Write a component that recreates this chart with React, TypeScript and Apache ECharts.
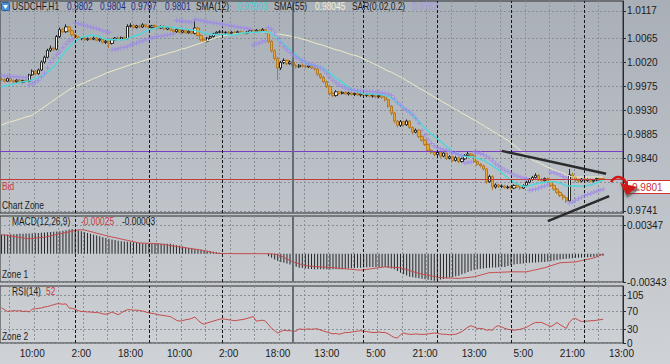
import React, { useEffect, useRef } from 'react';
import * as echarts from 'echarts';

const FONT = '"Liberation Sans", Arial, sans-serif';
const TEXT_SCALE = 0.84;

const symbolName = 'USDCHF,H1';
const timeLabels = ['10:00', '2:00', '18:00', '10:00', '2:00', '18:00', '13:00', '5:00', '21:00', '13:00', '5:00', '21:00', '13:00'];
const slotCount = 203;
const labelFirstSlot = 10;
const labelEvery = 16;
const gridEvery = 8;
const gridOffset = 3;
const daySeparators = [24, 48, 72, 118, 142, 166, 190];
const weekSeparator = 95;

const priceTicks = [0.9741, 0.9795, 0.984, 0.9885, 0.993, 0.9975, 1.002, 1.0065, 1.0117];
const priceLabels = [0.9741, 0.984, 0.9885, 0.993, 0.9975, 1.002, 1.0065, 1.0117];
const macdTicks = [-0.00343, 0.00347];
const rsiTicks = [0, 30, 70, 105];

const bidPrice = 0.9801;
const levelPrice = 0.9854;
const trendUpper = [[163, 0.9854], [197, 0.9811]];
const trendLower = [[178, 0.9722], [198, 0.9769]];

const opens = [
  0.9989, 0.9988, 0.9985, 0.9990, 0.9986, 0.9984, 0.9987, 0.9983, 0.9986, 0.9985,
  0.9997, 1.0004, 0.9999, 1.0006, 1.0021, 1.0030, 1.0043, 1.0047, 1.0045, 1.0069,
  1.0082, 1.0078, 1.0087, 1.0080, 1.0072, 1.0068, 1.0065, 1.0066, 1.0063, 1.0065,
  1.0064, 1.0066, 1.0062, 1.0064, 1.0058, 1.0060, 1.0056, 1.0063, 1.0066, 1.0064,
  1.0067, 1.0065, 1.0088, 1.0090, 1.0086, 1.0089, 1.0087, 1.0091, 1.0088, 1.0086,
  1.0089, 1.0087, 1.0085, 1.0088, 1.0083, 1.0086, 1.0081, 1.0078, 1.0082, 1.0077,
  1.0080, 1.0076, 1.0079, 1.0075, 1.0085, 1.0071, 1.0063, 1.0060, 1.0066, 1.0069,
  1.0074, 1.0077, 1.0078, 1.0076, 1.0077, 1.0075, 1.0077, 1.0076, 1.0078, 1.0076,
  1.0075, 1.0077, 1.0080, 1.0078, 1.0081, 1.0079, 1.0082, 1.0076, 1.0060, 1.0042,
  1.0028, 1.0010, 1.0020, 1.0024, 1.0018, 1.0021, 1.0014, 1.0012, 1.0015, 1.0013,
  1.0012, 1.0014, 1.0010, 1.0008, 0.9998, 0.9992, 0.9984, 0.9975, 0.9962, 0.9958,
  0.9965, 0.9962, 0.9964, 0.9961, 0.9963, 0.9960, 0.9962, 0.9959, 0.9961, 0.9958,
  0.9960, 0.9957, 0.9959, 0.9956, 0.9958, 0.9955, 0.9950, 0.9938, 0.9925, 0.9910,
  0.9902, 0.9909, 0.9903, 0.9910, 0.9898, 0.9889, 0.9893, 0.9881, 0.9874, 0.9866,
  0.9855, 0.9851, 0.9847, 0.9852, 0.9844, 0.9850, 0.9840, 0.9843, 0.9836, 0.9841,
  0.9834, 0.9839, 0.9845, 0.9848, 0.9845, 0.9834, 0.9829, 0.9826, 0.9820, 0.9796,
  0.9806, 0.9786, 0.9790, 0.9787, 0.9788, 0.9785, 0.9786, 0.9784, 0.9789, 0.9786,
  0.9784, 0.9789, 0.9795, 0.9800, 0.9804, 0.9808, 0.9800, 0.9798, 0.9802, 0.9796,
  0.9789, 0.9782, 0.9776, 0.9770, 0.9766, 0.9760, 0.9809, 0.9805, 0.9799, 0.9797,
  0.9801, 0.9798, 0.9800, 0.9797, 0.9799, 0.9802, 0.9802,
];

const closes = [
  0.9988, 0.9985, 0.9990, 0.9986, 0.9984, 0.9987, 0.9983, 0.9986, 0.9985, 0.9997,
  1.0004, 0.9999, 1.0006, 1.0021, 1.0030, 1.0043, 1.0047, 1.0045, 1.0069, 1.0082,
  1.0078, 1.0087, 1.0080, 1.0072, 1.0068, 1.0065, 1.0066, 1.0063, 1.0065, 1.0064,
  1.0066, 1.0062, 1.0064, 1.0058, 1.0060, 1.0056, 1.0063, 1.0066, 1.0064, 1.0067,
  1.0065, 1.0088, 1.0090, 1.0086, 1.0089, 1.0087, 1.0091, 1.0088, 1.0086, 1.0089,
  1.0087, 1.0085, 1.0088, 1.0083, 1.0086, 1.0081, 1.0078, 1.0082, 1.0077, 1.0080,
  1.0076, 1.0079, 1.0075, 1.0085, 1.0071, 1.0063, 1.0060, 1.0066, 1.0069, 1.0074,
  1.0077, 1.0078, 1.0076, 1.0077, 1.0075, 1.0077, 1.0076, 1.0078, 1.0076, 1.0075,
  1.0077, 1.0080, 1.0078, 1.0081, 1.0079, 1.0082, 1.0076, 1.0060, 1.0042, 1.0028,
  1.0010, 1.0020, 1.0024, 1.0018, 1.0021, 1.0014, 1.0012, 1.0015, 1.0013, 1.0012,
  1.0014, 1.0010, 1.0008, 0.9998, 0.9992, 0.9984, 0.9975, 0.9962, 0.9958, 0.9965,
  0.9962, 0.9964, 0.9961, 0.9963, 0.9960, 0.9962, 0.9959, 0.9961, 0.9958, 0.9960,
  0.9957, 0.9959, 0.9956, 0.9958, 0.9955, 0.9950, 0.9938, 0.9925, 0.9910, 0.9902,
  0.9909, 0.9903, 0.9910, 0.9898, 0.9889, 0.9893, 0.9881, 0.9874, 0.9866, 0.9855,
  0.9851, 0.9847, 0.9852, 0.9844, 0.9850, 0.9840, 0.9843, 0.9836, 0.9841, 0.9834,
  0.9839, 0.9845, 0.9848, 0.9845, 0.9834, 0.9829, 0.9826, 0.9820, 0.9796, 0.9806,
  0.9786, 0.9790, 0.9787, 0.9788, 0.9785, 0.9786, 0.9784, 0.9789, 0.9786, 0.9784,
  0.9789, 0.9795, 0.9800, 0.9804, 0.9808, 0.9800, 0.9798, 0.9802, 0.9796, 0.9789,
  0.9782, 0.9776, 0.9770, 0.9766, 0.9760, 0.9809, 0.9805, 0.9799, 0.9797, 0.9801,
  0.9798, 0.9800, 0.9797, 0.9799, 0.9802, 0.9800, 0.9801,
];

const highs = [
  0.9992, 0.9990, 0.9993, 0.9992, 0.9988, 0.9989, 0.9989, 0.9988, 0.9989, 0.9999,
  1.0007, 1.0006, 1.0009, 1.0024, 1.0033, 1.0046, 1.0052, 1.0050, 1.0072, 1.0086,
  1.0085, 1.0092, 1.0089, 1.0082, 1.0074, 1.0070, 1.0068, 1.0068, 1.0067, 1.0067,
  1.0069, 1.0068, 1.0066, 1.0066, 1.0063, 1.0062, 1.0065, 1.0068, 1.0069, 1.0069,
  1.0069, 1.0092, 1.0094, 1.0092, 1.0091, 1.0091, 1.0094, 1.0093, 1.0090, 1.0091,
  1.0092, 1.0089, 1.0090, 1.0090, 1.0088, 1.0088, 1.0083, 1.0084, 1.0084, 1.0082,
  1.0082, 1.0081, 1.0081, 1.0099, 1.0087, 1.0073, 1.0065, 1.0068, 1.0071, 1.0076,
  1.0079, 1.0081, 1.0080, 1.0079, 1.0079, 1.0079, 1.0079, 1.0080, 1.0080, 1.0078,
  1.0079, 1.0082, 1.0083, 1.0083, 1.0083, 1.0085, 1.0084, 1.0078, 1.0062, 1.0045,
  1.0031, 1.0023, 1.0028, 1.0026, 1.0024, 1.0023, 1.0017, 1.0017, 1.0018, 1.0016,
  1.0017, 1.0016, 1.0013, 1.0010, 1.0000, 0.9995, 0.9986, 0.9977, 0.9965, 0.9968,
  0.9967, 0.9966, 0.9966, 0.9965, 0.9965, 0.9964, 0.9964, 0.9963, 0.9963, 0.9962,
  0.9962, 0.9961, 0.9961, 0.9960, 0.9960, 0.9957, 0.9952, 0.9940, 0.9927, 0.9912,
  0.9912, 0.9911, 0.9913, 0.9912, 0.9900, 0.9896, 0.9895, 0.9883, 0.9876, 0.9868,
  0.9858, 0.9853, 0.9855, 0.9854, 0.9853, 0.9852, 0.9846, 0.9845, 0.9844, 0.9843,
  0.9842, 0.9848, 0.9852, 0.9850, 0.9847, 0.9836, 0.9831, 0.9828, 0.9822, 0.9809,
  0.9808, 0.9793, 0.9792, 0.9791, 0.9790, 0.9789, 0.9788, 0.9791, 0.9791, 0.9788,
  0.9791, 0.9798, 0.9803, 0.9807, 0.9812, 0.9810, 0.9803, 0.9804, 0.9804, 0.9798,
  0.9791, 0.9784, 0.9778, 0.9773, 0.9768, 0.9820, 0.9813, 0.9807, 0.9801, 0.9803,
  0.9803, 0.9802, 0.9802, 0.9801, 0.9804, 0.9804, 0.9804,
];

const lows = [
  0.9985, 0.9983, 0.9984, 0.9984, 0.9981, 0.9982, 0.9981, 0.9981, 0.9983, 0.9983,
  0.9995, 0.9996, 0.9997, 1.0004, 1.0018, 1.0028, 1.0040, 1.0041, 1.0043, 1.0066,
  1.0075, 1.0076, 1.0077, 1.0069, 1.0065, 1.0063, 1.0062, 1.0061, 1.0061, 1.0062,
  1.0062, 1.0060, 1.0059, 1.0056, 1.0055, 1.0047, 1.0054, 1.0061, 1.0062, 1.0062,
  1.0063, 1.0064, 1.0086, 1.0084, 1.0084, 1.0085, 1.0085, 1.0086, 1.0084, 1.0084,
  1.0085, 1.0083, 1.0083, 1.0081, 1.0081, 1.0079, 1.0075, 1.0076, 1.0075, 1.0075,
  1.0074, 1.0074, 1.0073, 1.0073, 1.0069, 1.0060, 1.0057, 1.0058, 1.0064, 1.0067,
  1.0072, 1.0075, 1.0074, 1.0074, 1.0073, 1.0073, 1.0074, 1.0074, 1.0074, 1.0073,
  1.0073, 1.0075, 1.0076, 1.0076, 1.0077, 1.0077, 1.0074, 1.0057, 1.0039, 1.0024,
  0.9987, 1.0006, 1.0017, 1.0015, 1.0016, 1.0011, 1.0009, 1.0010, 1.0011, 1.0009,
  1.0010, 1.0008, 1.0005, 0.9995, 0.9989, 0.9981, 0.9972, 0.9958, 0.9955, 0.9956,
  0.9959, 0.9960, 0.9959, 0.9958, 0.9958, 0.9957, 0.9957, 0.9956, 0.9956, 0.9955,
  0.9955, 0.9954, 0.9953, 0.9953, 0.9952, 0.9947, 0.9935, 0.9921, 0.9906, 0.9898,
  0.9899, 0.9900, 0.9901, 0.9895, 0.9886, 0.9887, 0.9878, 0.9871, 0.9863, 0.9852,
  0.9848, 0.9844, 0.9845, 0.9841, 0.9842, 0.9837, 0.9838, 0.9833, 0.9834, 0.9831,
  0.9832, 0.9837, 0.9843, 0.9843, 0.9831, 0.9826, 0.9823, 0.9817, 0.9792, 0.9794,
  0.9780, 0.9783, 0.9784, 0.9784, 0.9783, 0.9782, 0.9781, 0.9782, 0.9784, 0.9781,
  0.9782, 0.9787, 0.9793, 0.9798, 0.9802, 0.9797, 0.9796, 0.9796, 0.9793, 0.9786,
  0.9779, 0.9773, 0.9767, 0.9762, 0.9756, 0.9758, 0.9802, 0.9796, 0.9794, 0.9795,
  0.9796, 0.9796, 0.9795, 0.9795, 0.9797, 0.9798, 0.9797,
];

const sma12 = [
  0.9974, 0.9976, 0.9977, 0.9978, 0.9980, 0.9981, 0.9983, 0.9984, 0.9985, 0.9986,
  0.9988, 0.9990, 0.9991, 0.9994, 0.9997, 1.0002, 1.0007, 1.0012, 1.0019, 1.0027,
  1.0035, 1.0043, 1.0049, 1.0055, 1.0060, 1.0064, 1.0067, 1.0069, 1.0070, 1.0072,
  1.0071, 1.0070, 1.0069, 1.0066, 1.0064, 1.0063, 1.0063, 1.0063, 1.0063, 1.0063,
  1.0063, 1.0065, 1.0067, 1.0069, 1.0071, 1.0073, 1.0076, 1.0079, 1.0081, 1.0083,
  1.0084, 1.0086, 1.0088, 1.0087, 1.0087, 1.0087, 1.0086, 1.0085, 1.0084, 1.0084,
  1.0083, 1.0082, 1.0081, 1.0081, 1.0079, 1.0078, 1.0076, 1.0074, 1.0074, 1.0073,
  1.0073, 1.0073, 1.0073, 1.0073, 1.0073, 1.0072, 1.0072, 1.0074, 1.0075, 1.0076,
  1.0076, 1.0077, 1.0077, 1.0077, 1.0077, 1.0078, 1.0078, 1.0077, 1.0074, 1.0070,
  1.0064, 1.0059, 1.0055, 1.0050, 1.0045, 1.0040, 1.0034, 1.0028, 1.0023, 1.0019,
  1.0017, 1.0015, 1.0015, 1.0013, 1.0011, 1.0008, 1.0004, 1.0000, 0.9995, 0.9991,
  0.9987, 0.9983, 0.9978, 0.9974, 0.9970, 0.9967, 0.9965, 0.9963, 0.9961, 0.9961,
  0.9961, 0.9961, 0.9960, 0.9960, 0.9959, 0.9958, 0.9956, 0.9953, 0.9949, 0.9944,
  0.9940, 0.9935, 0.9931, 0.9926, 0.9921, 0.9915, 0.9909, 0.9903, 0.9897, 0.9891,
  0.9886, 0.9881, 0.9877, 0.9872, 0.9867, 0.9862, 0.9858, 0.9853, 0.9850, 0.9847,
  0.9844, 0.9844, 0.9843, 0.9843, 0.9842, 0.9840, 0.9838, 0.9837, 0.9833, 0.9830,
  0.9826, 0.9822, 0.9818, 0.9813, 0.9808, 0.9803, 0.9799, 0.9795, 0.9792, 0.9789,
  0.9788, 0.9787, 0.9789, 0.9790, 0.9792, 0.9793, 0.9794, 0.9795, 0.9796, 0.9796,
  0.9796, 0.9795, 0.9793, 0.9791, 0.9788, 0.9788, 0.9788, 0.9788, 0.9788, 0.9787,
  0.9788, 0.9789, 0.9790, 0.9792, 0.9794, 0.9797, 0.97993,
];

const sma55 = [
  0.9903, 0.9905, 0.9907, 0.9909, 0.9910, 0.9912, 0.9914, 0.9916, 0.9918, 0.9919,
  0.9921, 0.9925, 0.9929, 0.9933, 0.9937, 0.9941, 0.9945, 0.9949, 0.9953, 0.9957,
  0.9961, 0.9965, 0.9969, 0.9972, 0.9975, 0.9977, 0.9980, 0.9982, 0.9985, 0.9987,
  0.9990, 0.9992, 0.9995, 0.9997, 1.0000, 1.0002, 1.0004, 1.0006, 1.0008, 1.0010,
  1.0012, 1.0014, 1.0016, 1.0018, 1.0019, 1.0021, 1.0023, 1.0025, 1.0027, 1.0028,
  1.0030, 1.0032, 1.0034, 1.0035, 1.0037, 1.0039, 1.0040, 1.0042, 1.0044, 1.0046,
  1.0047, 1.0049, 1.0051, 1.0053, 1.0055, 1.0057, 1.0059, 1.0061, 1.0063, 1.0065,
  1.0067, 1.0069, 1.0070, 1.0071, 1.0072, 1.0073, 1.0074, 1.0075, 1.0075, 1.0076,
  1.0076, 1.0076, 1.0077, 1.0077, 1.0077, 1.0077, 1.0077, 1.0076, 1.0075, 1.0075,
  1.0074, 1.0073, 1.0072, 1.0071, 1.0070, 1.0069, 1.0067, 1.0066, 1.0064, 1.0063,
  1.0061, 1.0059, 1.0057, 1.0055, 1.0054, 1.0052, 1.0050, 1.0048, 1.0046, 1.0044,
  1.0043, 1.0041, 1.0039, 1.0037, 1.0035, 1.0034, 1.0032, 1.0030, 1.0027, 1.0024,
  1.0021, 1.0019, 1.0016, 1.0013, 1.0010, 1.0007, 1.0004, 1.0002, 0.9999, 0.9996,
  0.9993, 0.9990, 0.9986, 0.9983, 0.9979, 0.9976, 0.9972, 0.9969, 0.9966, 0.9962,
  0.9959, 0.9955, 0.9952, 0.9949, 0.9945, 0.9942, 0.9939, 0.9935, 0.9932, 0.9929,
  0.9925, 0.9922, 0.9919, 0.9915, 0.9912, 0.9909, 0.9905, 0.9902, 0.9898, 0.9895,
  0.9891, 0.9888, 0.9884, 0.9881, 0.9877, 0.9874, 0.9869, 0.9865, 0.9860, 0.9855,
  0.9851, 0.9846, 0.9842, 0.9837, 0.9834, 0.9832, 0.9829, 0.9826, 0.9823, 0.9821,
  0.9818, 0.9816, 0.9814, 0.9812, 0.9809, 0.9807, 0.9805, 0.9805, 0.9805, 0.9805,
  0.9805, 0.9805, 0.9805, 0.9805, 0.9805, 0.9805, 0.98045,
];

const sar = [
  0.9996, 0.9995, 0.9995, 0.9994, 0.9994, 0.9993, 0.9993, 0.9992, 0.9992,
  0.9978, 0.9980, 0.9983, 0.9987, 0.9993, 1.0000, 1.0010, 1.0020, 1.0028, 1.0035, 1.0040, 1.0048, 1.0055, 1.0060, 1.0064,
  1.0094, 1.0093, 1.0092, 1.0090, 1.0089, 1.0087, 1.0085, 1.0084, 1.0082, 1.0080, 1.0078, 1.0077,
  1.0044, 1.0045, 1.0046, 1.0048, 1.0049, 1.0050, 1.0053, 1.0055, 1.0057, 1.0059, 1.0061, 1.0063, 1.0065, 1.0066, 1.0068, 1.0069, 1.0070, 1.0071, 1.0072, 1.0073, 1.0074,
  1.0099, 1.0098, 1.0098, 1.0097, 1.0097, 1.0096, 1.0101, 1.0100, 1.0099, 1.0098, 1.0097, 1.0096, 1.0095, 1.0094, 1.0093, 1.0092, 1.0091, 1.0090, 1.0089, 1.0088, 1.0087, 1.0086, 1.0085, 1.0084, 1.0083,
  1.0053, 1.0055, 1.0057, 1.0059, 1.0061,
  1.0086, 1.0082, 1.0075, 1.0065, 1.0057, 1.0050, 1.0044, 1.0039, 1.0034, 1.0030,
  1.0027, 1.0024, 1.0021, 1.0018, 1.0016, 1.0014, 1.0012, 1.0010, 1.0006, 1.0000,
  0.9993, 0.9987, 0.9982, 0.9978, 0.9975, 0.9972, 0.9970, 0.9969, 0.9968, 0.9967,
  0.9967, 0.9966, 0.9966, 0.9965, 0.9965, 0.9964, 0.9964, 0.9963, 0.9962, 0.9961,
  0.9958, 0.9952, 0.9945, 0.9940, 0.9934, 0.9931, 0.9927, 0.9922, 0.9915, 0.9906, 0.9893,
  0.9884, 0.9875, 0.9868, 0.9863, 0.9860, 0.9858, 0.9856, 0.9855, 0.9853, 0.9851, 0.9849, 0.9847, 0.9845,
  0.9831, 0.9832, 0.9833,
  0.9852, 0.9851, 0.9849, 0.9847, 0.9844, 0.9840, 0.9835, 0.9830, 0.9826, 0.9822, 0.9818, 0.9815, 0.9812, 0.9809, 0.9807, 0.9805, 0.9803, 0.9802,
  0.9780, 0.9781, 0.9782, 0.9784, 0.9786, 0.9788, 0.9790,
  0.9814, 0.9813, 0.9811, 0.9809, 0.9806, 0.9803,
  0.9756, 0.9758, 0.9761, 0.9764, 0.9767, 0.9770, 0.9772, 0.9774, 0.9776, 0.9778, 0.9780, 0.9782,
];

const macdMain = [
  0.00230, 0.00232, 0.00233, 0.00235, 0.00236, 0.00238, 0.00240, 0.00241, 0.00243, 0.00245,
  0.00246, 0.00248, 0.00250, 0.00253, 0.00256, 0.00259, 0.00262, 0.00264, 0.00267, 0.00270,
  0.00278, 0.00285, 0.00293, 0.00300, 0.00290, 0.00280, 0.00270, 0.00260, 0.00250, 0.00240,
  0.00230, 0.00220, 0.00210, 0.00200, 0.00191, 0.00182, 0.00173, 0.00164, 0.00155, 0.00150,
  0.00147, 0.00143, 0.00140, 0.00137, 0.00133, 0.00130, 0.00127, 0.00123, 0.00120, 0.00120,
  0.00121, 0.00122, 0.00121, 0.00120, 0.00120, 0.00119, 0.00112, 0.00103, 0.00095, 0.00087,
  0.00078, 0.00070, 0.00064, 0.00058, 0.00052, 0.00046, 0.00040, 0.00034, 0.00028, 0.00022,
  0.00016, 0.00010, 0.00008, 0.00006, 0.00005, 0.00004, 0.00003, 0.00003, 0.00002, 0.00002,
  0.00002, 0.00001, 0.00001, 0.00001, 0.00000, 0.00000, 0.00000, -0.00030, -0.00050, -0.00070,
  -0.00090, -0.00100, -0.00110, -0.00120, -0.00130, -0.00143, -0.00157, -0.00170, -0.00175, -0.00180,
  -0.00183, -0.00186, -0.00188, -0.00190, -0.00190, -0.00190, -0.00190, -0.00191, -0.00190, -0.00190,
  -0.00190, -0.00188, -0.00185, -0.00181, -0.00178, -0.00175, -0.00172, -0.00169, -0.00166, -0.00163,
  -0.00160, -0.00160, -0.00160, -0.00160, -0.00160, -0.00162, -0.00170, -0.00180, -0.00190, -0.00210,
  -0.00230, -0.00250, -0.00265, -0.00280, -0.00286, -0.00292, -0.00298, -0.00304, -0.00310, -0.00316,
  -0.00322, -0.00328, -0.00321, -0.00314, -0.00306, -0.00298, -0.00290, -0.00282, -0.00274, -0.00266,
  -0.00250, -0.00236, -0.00222, -0.00208, -0.00194, -0.00189, -0.00184, -0.00179, -0.00174, -0.00170,
  -0.00168, -0.00166, -0.00164, -0.00162, -0.00160, -0.00150, -0.00140, -0.00130, -0.00126, -0.00122,
  -0.00118, -0.00114, -0.00110, -0.00108, -0.00106, -0.00104, -0.00102, -0.00100, -0.00094, -0.00088,
  -0.00082, -0.00076, -0.00070, -0.00066, -0.00062, -0.00058, -0.00054, -0.00050, -0.00048, -0.00046,
  -0.00044, -0.00042, -0.00040, -0.00037, -0.00033, -0.00029, -0.00025,
];

const macdSignal = [
  0.00230, 0.00225, 0.00220, 0.00214, 0.00208, 0.00202, 0.00196, 0.00190, 0.00185, 0.00180,
  0.00183, 0.00188, 0.00193, 0.00197, 0.00200, 0.00208, 0.00216, 0.00224, 0.00232, 0.00240,
  0.00248, 0.00256, 0.00264, 0.00272, 0.00280, 0.00287, 0.00290, 0.00285, 0.00278, 0.00268,
  0.00258, 0.00248, 0.00238, 0.00229, 0.00219, 0.00210, 0.00202, 0.00194, 0.00186, 0.00177,
  0.00169, 0.00161, 0.00153, 0.00145, 0.00137, 0.00130, 0.00128, 0.00127, 0.00125, 0.00124,
  0.00122, 0.00121, 0.00115, 0.00110, 0.00104, 0.00099, 0.00093, 0.00088, 0.00082, 0.00077,
  0.00072, 0.00066, 0.00061, 0.00055, 0.00050, 0.00043, 0.00036, 0.00029, 0.00021, 0.00014,
  0.00007, 0.00002, 0.00001, 0.00001, 0.00001, 0.00001, 0.00000, 0.00000, 0.00000, 0.00000,
  0.00000, 0.00000, 0.00000, 0.00000, 0.00000, 0.00000, 0.00000, -0.00001, -0.00003, -0.00007,
  -0.00010, -0.00028, -0.00046, -0.00064, -0.00082, -0.00100, -0.00111, -0.00122, -0.00133, -0.00144,
  -0.00150, -0.00153, -0.00155, -0.00158, -0.00160, -0.00162, -0.00165, -0.00167, -0.00170, -0.00173,
  -0.00177, -0.00180, -0.00183, -0.00187, -0.00190, -0.00193, -0.00197, -0.00200, -0.00195, -0.00190,
  -0.00185, -0.00180, -0.00175, -0.00170, -0.00165, -0.00160, -0.00162, -0.00164, -0.00166, -0.00168,
  -0.00170, -0.00182, -0.00193, -0.00205, -0.00217, -0.00228, -0.00240, -0.00247, -0.00254, -0.00261,
  -0.00269, -0.00276, -0.00283, -0.00290, -0.00292, -0.00293, -0.00295, -0.00297, -0.00298, -0.00300,
  -0.00296, -0.00292, -0.00288, -0.00284, -0.00280, -0.00270, -0.00260, -0.00250, -0.00240, -0.00230,
  -0.00229, -0.00227, -0.00226, -0.00224, -0.00223, -0.00221, -0.00220, -0.00220, -0.00220, -0.00220,
  -0.00220, -0.00220, -0.00212, -0.00203, -0.00195, -0.00187, -0.00178, -0.00170, -0.00158, -0.00146,
  -0.00134, -0.00122, -0.00110, -0.00108, -0.00106, -0.00104, -0.00102, -0.00100, -0.00092, -0.00084,
  -0.00076, -0.00068, -0.00060, -0.00050, -0.00038, -0.00020, -0.00003,
];

const rsi = [
  77, 73, 69, 70, 71, 70, 71, 69, 70, 68,
  74, 75, 76, 77, 79, 80, 82, 84, 86, 86,
  85, 86, 77, 76, 74, 71, 69, 69, 68, 68,
  67, 67, 66, 64, 63, 65, 68, 65, 62, 66,
  70, 73, 73, 72, 72, 71, 70, 68, 66, 65,
  64, 62, 61, 60, 59, 58, 54, 50, 48, 49,
  51, 52, 54, 57, 50, 44, 41, 44, 46, 48,
  50, 52, 53, 52, 51, 50, 49, 50, 51, 52,
  54, 56, 58, 48, 49, 50, 48, 40, 32, 27,
  22, 25, 28, 27, 27, 26, 26, 31, 30, 30,
  31, 30, 31, 31, 28, 26, 24, 22, 20, 21,
  19, 21, 23, 23, 24, 25, 26, 27, 26, 25,
  24, 23, 23, 24, 23, 23, 20, 16, 12, 11,
  18, 22, 20, 19, 19, 20, 19, 19, 19, 20,
  21, 22, 21, 20, 19, 19, 18, 19, 19, 22,
  25, 30, 35, 38, 35, 32, 32, 31, 28, 29,
  28, 36, 38, 35, 32, 30, 29, 28, 29, 30,
  32, 34, 38, 42, 45, 45, 45, 42, 39, 36,
  40, 45, 40, 36, 32, 45, 52, 54, 50, 47,
  48, 48, 49, 49, 50, 51, 52,
];

const TEXT_DARK = '#1c1c1c';

function separatorLines() {
  return [
    ...daySeparators.map((s) => ({ xAxis: s, lineStyle: { color: '#151515', type: [3, 2], width: 1 } })),
    { xAxis: weekSeparator, lineStyle: { color: '#666c73', type: 'solid', width: 2 } },
  ];
}

function sepMarkLine() {
  return {
    silent: true,
    symbol: ['none', 'none'],
    precision: 6,
    label: { show: false },
    data: separatorLines(),
  };
}

function txt(text: string, x: number, y: number, fill: string) {
  return {
    type: 'text',
    x,
    y,
    z: 50,
    scaleX: TEXT_SCALE,
    silent: true,
    style: { text, fill, font: `10px ${FONT}`, verticalAlign: 'middle', align: 'left' },
  };
}

export default function App() {
  const ref = useRef<HTMLDivElement>(null);

  useEffect(() => {
    if (!ref.current) return;
    const chart = echarts.init(ref.current, null, { renderer: 'svg' });
    const last = closes.length - 1;
    const categories = Array.from({ length: slotCount }, (_, i) => String(i));
    const candles = opens.map((o, i) => [o, closes[i], lows[i], highs[i]]);

    const gridLineStyle = { color: '#899098', type: [2, 2], width: 1 };
    const isLabelSlot = (i: number) => i >= labelFirstSlot && (i - labelFirstSlot) % labelEvery === 0;
    const isGridSlot = (i: number) => i % gridEvery === gridOffset;

    const xAxes = [0, 1, 2].map((gi) => ({
      type: 'category',
      gridIndex: gi,
      data: categories,
      boundaryGap: true,
      axisLine: { show: false },
      axisTick: { show: false },
      axisLabel:
        gi === 2
          ? {
              show: true,
              interval: (i: number) => isLabelSlot(i),
              formatter: (_v: string, i: number) => timeLabels[(i - labelFirstSlot) / labelEvery] ?? '',
              color: TEXT_DARK,
              fontSize: 10,
              fontFamily: FONT,
              margin: 5,
            }
          : { show: false },
      splitLine: { show: true, interval: (i: number) => isGridSlot(i), lineStyle: gridLineStyle },
    }));

    const yCommon = (gi: number, ticks: number[], labels: number[], fmt: (v: number) => string) => ({
      type: 'value',
      gridIndex: gi,
      position: 'right',
      axisLine: { show: true, lineStyle: { color: '#2a2a2a', width: 1 } },
      axisTick: { show: true, length: 3, customValues: ticks, lineStyle: { color: '#2a2a2a' } },
      axisLabel: {
        customValues: labels,
        formatter: fmt,
        color: TEXT_DARK,
        fontSize: 10,
        fontFamily: FONT,
        margin: 4,
      },
      splitLine: { show: true, lineStyle: gridLineStyle },
    });

    const option: any = {
      animation: false,
      backgroundColor: 'transparent',
      grid: [
        { left: 0, top: 1, width: 623, height: 212, show: true, borderColor: '#2e2e2e', borderWidth: 1 },
        { left: 0, top: 216, width: 623, height: 66, show: true, borderColor: '#2e2e2e', borderWidth: 1 },
        { left: 0, top: 286, width: 623, height: 57, show: true, borderColor: '#2e2e2e', borderWidth: 1 },
      ],
      xAxis: xAxes,
      yAxis: [
        { ...yCommon(0, priceTicks, priceLabels, (v: number) => v.toFixed(4)), min: 0.97372, max: 1.01358 },
        { ...yCommon(1, macdTicks, macdTicks, (v: number) => v.toFixed(5)), min: -0.00343, max: 0.00456 },
        { ...yCommon(2, rsiTicks, rsiTicks, (v: number) => String(Math.round(v))), min: 0, max: 125 },
      ],
      series: [
        {
          type: 'candlestick',
          xAxisIndex: 0,
          yAxisIndex: 0,
          data: candles,
          barWidth: 2.8,
          z: 2,
          itemStyle: {
            color: '#f7f7f2',
            color0: '#eaa63a',
            borderColor: '#141414',
            borderColor0: '#b0741e',
            borderWidth: 0.9,
          },
          markLine: {
            silent: true,
            symbol: ['none', 'none'],
            precision: 6,
            label: { show: false },
            data: [
              { yAxis: bidPrice, lineStyle: { color: '#c43a3a', width: 1, type: 'solid' } },
              { yAxis: levelPrice, lineStyle: { color: '#7a3fc0', width: 1.2, type: 'solid', opacity: 1 } },
              ...separatorLines(),
            ],
          },
        },
        {
          type: 'line',
          xAxisIndex: 0,
          yAxisIndex: 0,
          data: sma55,
          showSymbol: false,
          z: 3,
          lineStyle: { color: '#efeac6', width: 1 },
        },
        {
          type: 'line',
          xAxisIndex: 0,
          yAxisIndex: 0,
          data: sma12,
          showSymbol: false,
          z: 4,
          lineStyle: { color: '#4fd6da', width: 1.5 },
        },
        {
          type: 'scatter',
          xAxisIndex: 0,
          yAxisIndex: 0,
          data: sar,
          symbol: 'path://M2,0H3V2H5V3H3V5H2V3H0V2H2Z',
          symbolSize: 5,
          z: 5,
          itemStyle: { color: '#9c86ec' },
        },
        {
          type: 'line',
          xAxisIndex: 0,
          yAxisIndex: 0,
          data: trendUpper,
          showSymbol: false,
          clip: false,
          z: 6,
          lineStyle: { color: '#2b2b2b', width: 2.5 },
        },
        {
          type: 'line',
          xAxisIndex: 0,
          yAxisIndex: 0,
          data: trendLower,
          showSymbol: false,
          clip: false,
          z: 6,
          lineStyle: { color: '#2b2b2b', width: 2.5 },
        },
        {
          type: 'bar',
          xAxisIndex: 1,
          yAxisIndex: 1,
          data: macdMain,
          barWidth: 1,
          itemStyle: { color: '#262626' },
          markLine: sepMarkLine(),
        },
        {
          type: 'line',
          xAxisIndex: 1,
          yAxisIndex: 1,
          data: macdSignal,
          showSymbol: false,
          z: 4,
          lineStyle: { color: '#c84a4a', width: 1 },
        },
        {
          type: 'line',
          xAxisIndex: 2,
          yAxisIndex: 2,
          data: rsi,
          showSymbol: false,
          z: 4,
          lineStyle: { color: '#c64a4a', width: 1 },
          markLine: sepMarkLine(),
        },
      ],
      graphic: [
        {
          type: 'rect',
          z: 50,
          shape: { x: 1.5, y: 2.5, width: 8, height: 8, r: 1 },
          style: { fill: '#4b92dc', stroke: '#2c5f9a', lineWidth: 1 },
        },
        {
          type: 'polygon',
          z: 51,
          shape: { points: [[3, 5], [8, 5], [5.5, 9]] },
          style: { fill: '#ffffff' },
        },
        txt(symbolName, 12, 7, TEXT_DARK),
        txt(opens[last].toFixed(4), 67, 7, '#1c2a7e'),
        txt(highs[last].toFixed(4), 100, 7, '#1c2a7e'),
        txt(lows[last].toFixed(4), 131, 7, '#1c2a7e'),
        txt(closes[last].toFixed(4), 165, 7, '#1c2a7e'),
        txt('SMA(12)', 196, 7, TEXT_DARK),
        txt(sma12[last].toFixed(5), 237, 7, '#3fd0da'),
        txt('SMA(55)', 274, 7, TEXT_DARK),
        txt(sma55[last].toFixed(5), 315, 7, '#f4f1d4'),
        txt('SAR(0.02,0.2)', 352, 7, TEXT_DARK),
        txt(sar[last].toFixed(4), 412, 7, '#a596e6'),
        txt('Bid', 2, 187, '#cf3b3b'),
        txt('Chart Zone', 2, 206, TEXT_DARK),
        txt('MACD(12,26,9)', 12, 222, TEXT_DARK),
        txt(macdMain[last].toFixed(5), 81, 222, '#c83c3c'),
        txt(macdSignal[last].toFixed(5), 122, 222, TEXT_DARK),
        txt('Zone 1', 2, 275, TEXT_DARK),
        txt('RSI(14)', 12, 292, TEXT_DARK),
        txt(String(rsi[last]), 46, 292, '#c83c3c'),
        txt('Zone 2', 2, 337, TEXT_DARK),
        {
          type: 'rect',
          z: 60,
          shape: { x: 627.5, y: 180.5, width: 44, height: 13 },
          style: { fill: '#ffffff', stroke: '#cf2f2f', lineWidth: 1 },
        },
        {
          type: 'text',
          x: 632,
          y: 187,
          z: 61,
          style: { text: bidPrice.toFixed(4), fill: '#cf2f2f', font: `10px ${FONT}`, verticalAlign: 'middle' },
        },
        {
          type: 'polygon',
          z: 62,
          shape: { points: [[621, 185], [640, 189], [627, 198]] },
          style: { fill: '#4a4a4a', opacity: 0.5, shadowBlur: 4, shadowColor: 'rgba(0,0,0,0.6)' },
        },
        {
          type: 'bezierCurve',
          z: 63,
          shape: { x1: 611, y1: 182, cpx1: 616, cpy1: 174, cpx2: 625, cpy2: 176, x2: 627, y2: 186 },
          style: { stroke: '#d01818', lineWidth: 2.5, fill: 'none' },
        },
        {
          type: 'polygon',
          z: 64,
          shape: { points: [[620, 183], [637, 187], [627, 195]] },
          style: { fill: '#d01818' },
        },
      ],
    };

    chart.setOption(option);
    return () => chart.dispose();
  }, []);

  return (
    <div
      ref={ref}
      style={{
        position: 'fixed',
        left: 0,
        top: 0,
        width: 670,
        height: 364,
        background: 'linear-gradient(180deg, #a9afb7 0%, #bcc1c7 50%, #cfd2d6 100%)',
      }}
    />
  );
}
